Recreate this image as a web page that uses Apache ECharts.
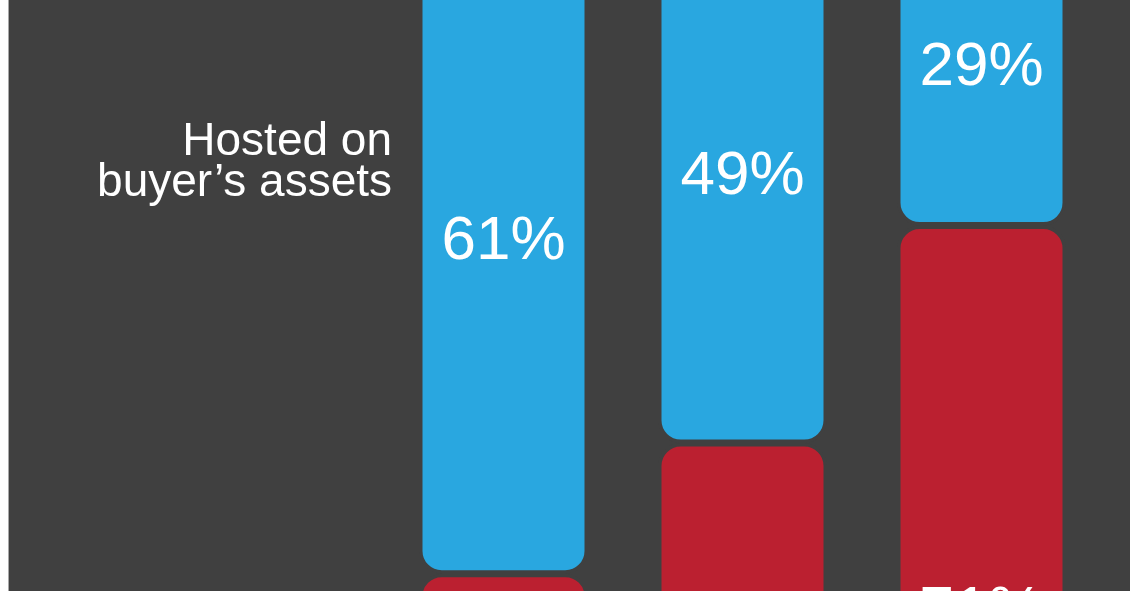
<!DOCTYPE html>
<html>
<head>
<meta charset="utf-8">
<script src="https://cdn.jsdelivr.net/npm/echarts@6/dist/echarts.min.js"></script>
<style>
html,body{margin:0;padding:0;background:#ffffff;}
#chart{width:1130px;height:591px;}
</style>
</head>
<body>
<div id="chart"></div>
<script>
const categories = ['A', 'B', 'C'];
const hostedBuyer = [61, 49, 29];
const hostedOther = [39, 51, 71];
const annotationLines = ['Hosted on', 'buyer\u2019s assets'];

const BG = '#404040';
const chart = echarts.init(document.getElementById('chart'));
const labelStyle = {
  show: true,
  position: 'inside',
  color: '#ffffff',
  fontFamily: 'Liberation Sans, Arial, sans-serif',
  fontSize: 62,
  formatter: p => p.value + '%'
};
chart.setOption({
  backgroundColor: BG,
  animation: false,
  grid: { left: 384, width: 717, top: -90, height: 1088, outerBoundsMode: 'none', containLabel: false },
  xAxis: {
    type: 'category', data: categories,
    axisLine: { show: false }, axisTick: { show: false }, axisLabel: { show: false }
  },
  yAxis: {
    type: 'value', min: 0, max: 100, inverse: true,
    axisLine: { show: false }, axisTick: { show: false }, axisLabel: { show: false },
    splitLine: { show: false }
  },
  series: [
    {
      type: 'bar', stack: 'total', data: hostedBuyer, barWidth: 169, clip: false,
      itemStyle: { color: '#29a7e0', borderColor: BG, borderWidth: 3.5, borderRadius: [0, 0, 21, 21] },
      label: labelStyle
    },
    {
      type: 'bar', stack: 'total', data: hostedOther, barWidth: 169, clip: false,
      itemStyle: { color: '#bb2030', borderColor: BG, borderWidth: 3.5, borderRadius: [21, 21, 0, 0] },
      label: labelStyle
    }
  ],
  graphic: [
    { type: 'rect', left: 0, top: 0, shape: { width: 8, height: 591 }, style: { fill: '#ffffff' } },
    { type: 'rect', left: 8, top: 0, shape: { width: 1, height: 591 }, style: { fill: '#a8a8a8' } },
    {
      type: 'text', x: 392, y: 122,
      style: {
        text: annotationLines.join('\n'),
        fill: '#ffffff',
        font: '46px "Liberation Sans", Arial, sans-serif',
        lineHeight: 41,
        align: 'right',
        verticalAlign: 'top'
      }
    }
  ]
});
</script>
</body>
</html>
